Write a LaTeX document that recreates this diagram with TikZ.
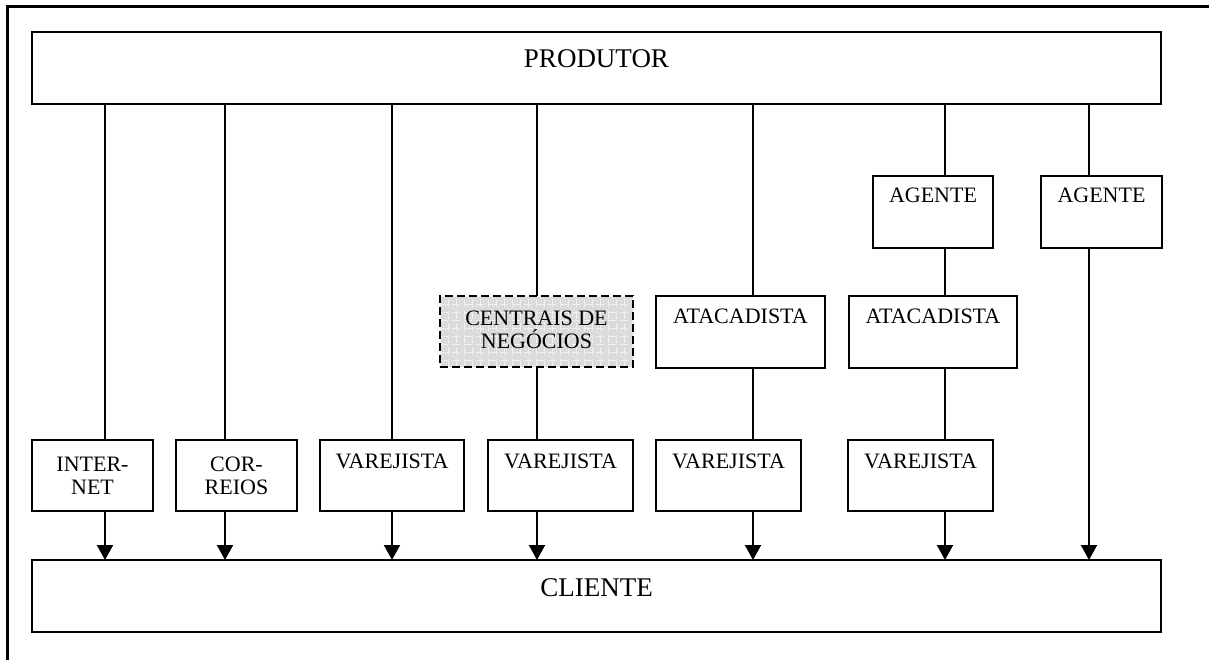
\documentclass[tikz,border=0pt]{standalone}
\usepackage{fontspec}
\setmainfont{Liberation Serif}
\usetikzlibrary{arrows.meta}
\newcommand\boxtext[4]{\parbox[c][#2pt][t]{#1pt}{\centering\rule{0pt}{#3pt}#4}}
\tikzset{
  box/.style={draw, line width=2pt, inner sep=0pt, outer sep=0pt, anchor=north west, font=\fontsize{22}{23}\selectfont},
  bigbox/.style={box, font=\fontsize{27}{30}\selectfont},
  gridbox/.style={box, dash pattern=on 8pt off 4pt, fill=black!14,
    path picture={\draw[black!6, line width=0.7pt, step=8pt] (path picture bounding box.south west) grid (path picture bounding box.north east);}},
  conn/.style={line width=2pt},
  arr/.style={conn, -{Triangle[length=15pt,width=16pt]}},
  frame/.style={line width=3pt}
}
\begin{document}
\begin{tikzpicture}[x=1pt,y=-1pt]
\useasboundingbox (0,0) rectangle (1209,660);
\draw[frame] (1209,7) -- (7,7) -- (7,660);

\node[bigbox] (P) at (32,32) {\boxtext{1129}{72}{36}{PRODUTOR}};
\node[bigbox] (C) at (32,560) {\boxtext{1129}{72}{36}{CLIENTE}};

\node[box] (I) at (32,440) {\boxtext{121}{71}{31}{INTER-\\NET}};
\node[box] (Co) at (176,440) {\boxtext{121}{71}{31}{COR-\\REIOS}};
\node[box] (V3) at (320,440) {\boxtext{144}{71}{28}{VAREJISTA}};
\node[box] (V4) at (488,440) {\boxtext{145}{71}{28}{VAREJISTA}};
\node[box] (V5) at (656,440) {\boxtext{145}{71}{28}{VAREJISTA}};
\node[box] (V6) at (848,440) {\boxtext{145}{71}{28}{VAREJISTA}};

\node[gridbox] (CN) at (440,296) {\boxtext{193}{71}{29}{CENTRAIS DE\\NEGÓCIOS}};
\node[box] (A1) at (656,296) {\boxtext{169}{72}{27}{ATACADISTA}};
\node[box] (A2) at (849,296) {\boxtext{168}{72}{27}{ATACADISTA}};

\node[box] (G1) at (873,176) {\boxtext{120}{72}{27}{AGENTE}};
\node[box] (G2) at (1041,176) {\boxtext{121}{72}{27}{AGENTE}};

\coordinate (x1) at (105,0);
\coordinate (x2) at (225,0);
\coordinate (x3) at (392,0);
\coordinate (x4) at (537,0);
\coordinate (x5) at (753,0);
\coordinate (x6) at (945,0);
\coordinate (x7) at (1089,0);

\draw[conn] (P.south -| x1) -- (I.north -| x1);
\draw[arr] (I.south -| x1) -- (C.north -| x1);
\draw[conn] (P.south -| x2) -- (Co.north -| x2);
\draw[arr] (Co.south -| x2) -- (C.north -| x2);
\draw[conn] (P.south -| x3) -- (V3.north -| x3);
\draw[arr] (V3.south -| x3) -- (C.north -| x3);
\draw[conn] (P.south -| x4) -- (CN.north -| x4);
\draw[conn] (CN.south -| x4) -- (V4.north -| x4);
\draw[arr] (V4.south -| x4) -- (C.north -| x4);
\draw[conn] (P.south -| x5) -- (A1.north -| x5);
\draw[conn] (A1.south -| x5) -- (V5.north -| x5);
\draw[arr] (V5.south -| x5) -- (C.north -| x5);
\draw[conn] (P.south -| x6) -- (G1.north -| x6);
\draw[conn] (G1.south -| x6) -- (A2.north -| x6);
\draw[conn] (A2.south -| x6) -- (V6.north -| x6);
\draw[arr] (V6.south -| x6) -- (C.north -| x6);
\draw[conn] (P.south -| x7) -- (G2.north -| x7);
\draw[arr] (G2.south -| x7) -- (C.north -| x7);
\end{tikzpicture}
\end{document}
